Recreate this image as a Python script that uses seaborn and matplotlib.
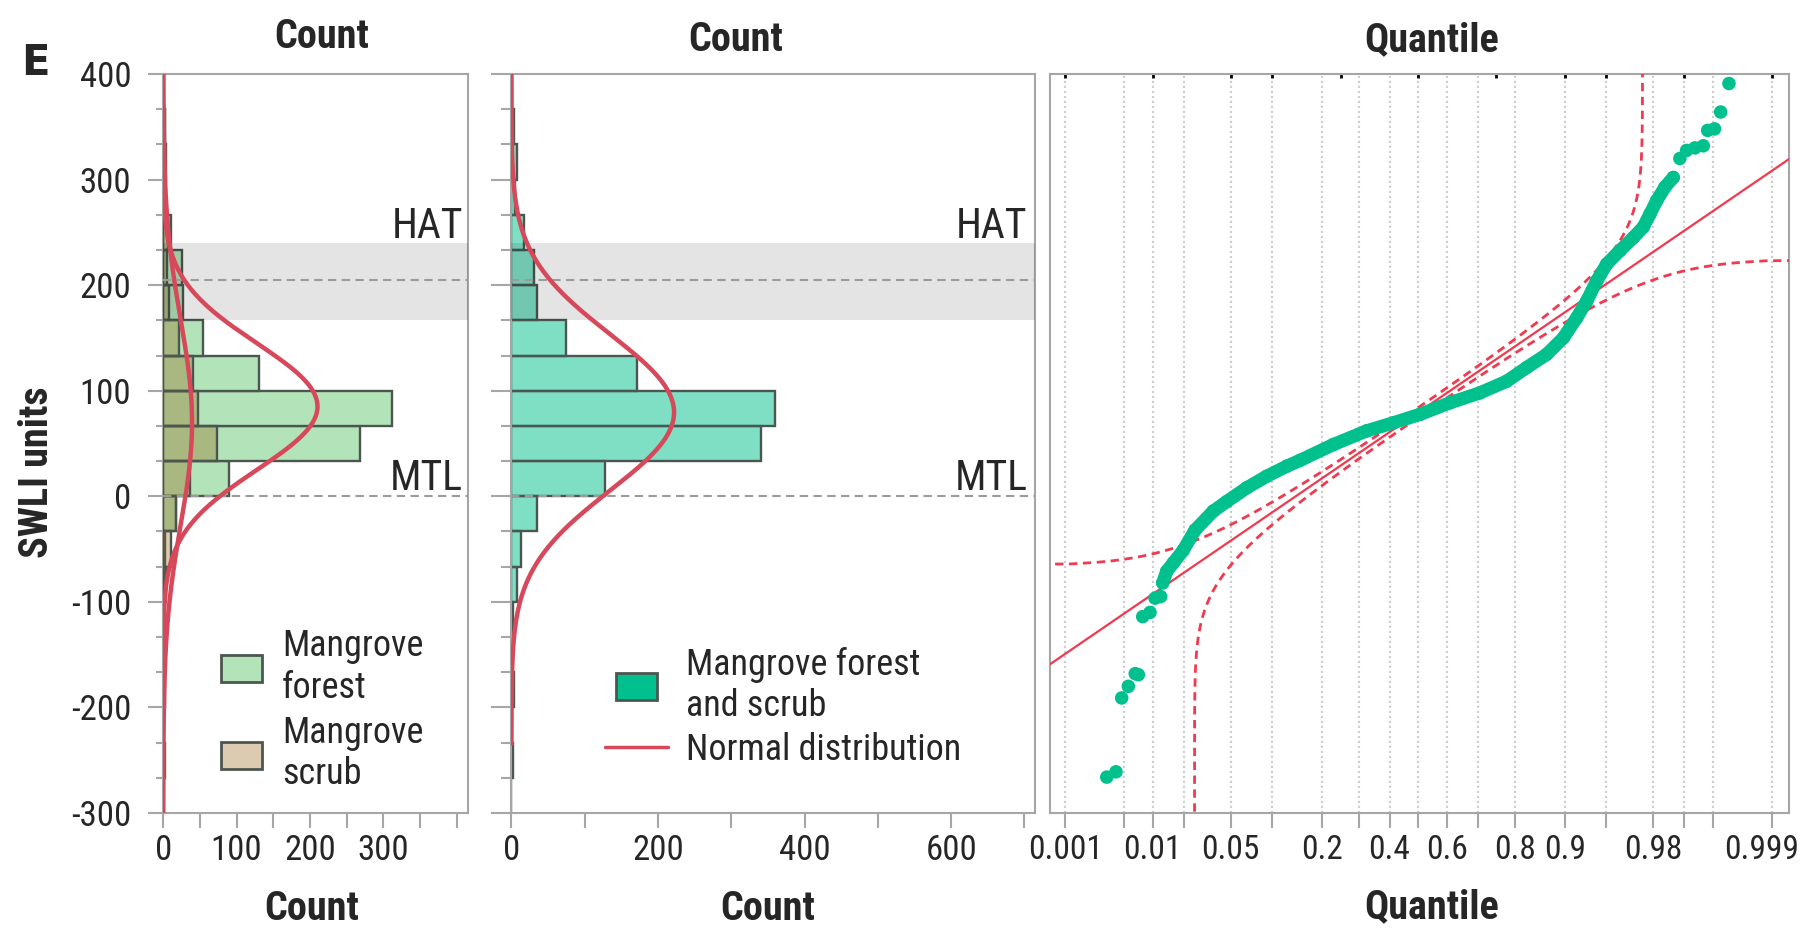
import numpy as np
import pandas as pd
import matplotlib
matplotlib.use("Agg")
import matplotlib.pyplot as plt
import matplotlib.transforms as mtransforms
import seaborn as sns
from matplotlib import font_manager as fm
from matplotlib.ticker import FixedLocator, FixedFormatter, NullFormatter
from matplotlib.patches import Patch, Rectangle
from matplotlib.lines import Line2D
from matplotlib.legend_handler import HandlerPatch
from statistics import NormalDist

# ---------------- data ----------------
swli_bin_edges = [-300.0, -266.67, -233.33, -200.0, -166.67, -133.33, -100.0, -66.67,
                  -33.33, 0.0, 33.33, 66.67, 100.0, 133.33, 166.67, 200.0, 233.33,
                  266.67, 300.0, 333.33, 366.67, 400.0]
forest_counts = [0, 0, 0, 0, 0, 1, 3, 3, 17, 90, 268, 312, 130, 54, 27, 26, 10, 2, 4, 2, 0]
scrub_counts = [0, 2, 0, 3, 0, 1, 4, 10, 18, 37, 73, 47, 41, 21, 8, 5, 7, 3, 3, 2, 1]

# fitted normal curves (mean, sd) and the SWLI span over which each is drawn
forest_fit = (85.0, 60.0)
scrub_fit = (70.0, 97.0)
all_fit = (79.5, 74.0)
forest_span = (-175, 348)
scrub_span = (-300, 400)
all_span = (-236, 400)

# tidal reference levels
hat_level = 205
mtl_level = 0
hat_band = (167, 240)

# normal quantile plot: (probability, SWLI) pairs
qq_low_p = [0.00319, 0.00406, 0.0047, 0.00556, 0.0066, 0.00712, 0.00791, 0.00941, 0.01058, 0.01204]
qq_low_v = [-266, -261, -191, -180, -168, -169, -114, -110, -96.5, -95]
qq_band_p = [0.01261, 0.0138, 0.01598, 0.0198, 0.0253, 0.0363, 0.0467, 0.0664, 0.0921, 0.1245,
             0.1499, 0.2281, 0.3253, 0.4129, 0.5052, 0.6087, 0.7047, 0.7799, 0.8282, 0.8691,
             0.8974, 0.9168, 0.9295, 0.9405, 0.9502, 0.961, 0.9699, 0.9754, 0.9786, 0.9814,
             0.9845, 0.9871]
qq_band_v = [-82, -71, -63, -51, -32, -14, -5, 8, 19, 28.5,
             34, 49, 62, 69.6, 77.6, 88.6, 98, 109, 122, 134.5,
             150, 169, 185, 204, 220, 232.7, 245, 255, 267.5, 280,
             293, 302]
qq_high_p = [0.9889, 0.9905, 0.9922, 0.99365, 0.9943, 0.9952, 0.9959, 0.9967]
qq_high_v = [320, 327.6, 330, 332, 346.6, 348, 364, 391]
qq_band_D = 0.025  # confidence band half-width in probability

# axis ticks / labels
y_major = [-300, -200, -100, 0, 100, 200, 300, 400]
y_labels = ["-300", "-200", "-100", "0", "100", "200", "300", "400"]
left_xticks = [0, 50, 100, 150, 200, 250, 300, 350, 400]
left_xlabels = ["0", "", "100", "", "200", "", "300", "", ""]
mid_xticks = [0, 100, 200, 300, 400, 500, 600, 700]
mid_xlabels = ["0", "", "200", "", "400", "", "600", ""]
q_ticks = [0.001, 0.005, 0.01, 0.02, 0.05, 0.1, 0.2, 0.3, 0.4, 0.5, 0.6, 0.7, 0.8, 0.9,
           0.95, 0.98, 0.99, 0.995, 0.999]
q_labels = ["0.001", "", "0.01", "", "0.05", "", "0.2", "", "0.4", "", "0.6", "", "0.8", "0.9",
            "", "0.98", "", "", "0.999"]
q_top_ticks = [0.001, 0.01, 0.05, 0.1, 0.25, 0.5, 0.75, 0.9, 0.95, 0.99, 0.999]

# ---------------- style ----------------
sns.set_style("white")
names = {f.name for f in fm.fontManager.ttflist}
COND = "DejaVu Sans"
for cand in ["Roboto Condensed", "Liberation Sans Narrow", "Open Sans Condensed"]:
    if cand in names:
        COND = cand
        break
plt.rcParams["font.family"] = [COND, "DejaVu Sans"]
plt.rcParams["font.stretch"] = "condensed"

FOREST = "#b3e3b8"
SCRUB = "#94610f"
SCRUB_LEG = "#dccbb0"
TEAL = "#00c08d"
EDGE = "#4c5650"
RED = "#d6485a"
QRED = "#f03a4f"
GRAY = "#a6a6a6"

W, H = 1805, 931
fig = plt.figure(figsize=(W / 100, H / 100), dpi=100)


def px_rect(x0, x1, ytop, ybot):
    return [x0 / W, 1 - ybot / H, (x1 - x0) / W, (ybot - ytop) / H]


ax1 = fig.add_axes(px_rect(163, 468, 74, 813))
ax2 = fig.add_axes(px_rect(510.7, 1035.4, 74, 813))
ax3 = fig.add_axes(px_rect(1049.8, 1788.8, 74, 813))

edges = np.array(swli_bin_edges)
centers = (edges[:-1] + edges[1:]) / 2
bw = edges[1] - edges[0]
hist_df = pd.DataFrame({"SWLI": centers, "forest": forest_counts, "scrub": scrub_counts})
hist_df["all"] = hist_df["forest"] + hist_df["scrub"]

nd = NormalDist()


def normal_curve(ax, fit, span, n):
    mu, sd = fit
    yy = np.linspace(span[0], span[1], 500)
    dist = NormalDist(mu, sd)
    xx = n * bw * np.array([dist.pdf(v) for v in yy])
    ax.plot(xx, yy, color=RED, lw=3.2, zorder=6, solid_capstyle="butt")


# ---------------- left panel ----------------
sns.histplot(data=hist_df, y="SWLI", weights="forest", bins=swli_bin_edges, color=FOREST, alpha=1,
             edgecolor=EDGE, linewidth=1.7, ax=ax1, zorder=2)
sns.histplot(data=hist_df, y="SWLI", weights="scrub", bins=swli_bin_edges, color=SCRUB, alpha=0.33,
             edgecolor=EDGE, linewidth=1.7, ax=ax1, zorder=3)
normal_curve(ax1, forest_fit, forest_span, hist_df["forest"].sum())
normal_curve(ax1, scrub_fit, scrub_span, hist_df["scrub"].sum())
ax1.set_xlim(-0.4, 415.6)

# ---------------- middle panel ----------------
sns.histplot(data=hist_df, y="SWLI", weights="all", bins=swli_bin_edges, color=TEAL, alpha=0.5,
             edgecolor=EDGE, linewidth=1.7, ax=ax2, zorder=2)
normal_curve(ax2, all_fit, all_span, hist_df["all"].sum())
ax2.set_xlim(-1, 715)

for ax, tick_len, pad_frac in [(ax1, 15, 5.3 / 305), (ax2, 20, 7.9 / 524.7)]:
    ax.set_ylim(-300, 400)
    ax.axhspan(hat_band[0], hat_band[1], color="black", alpha=0.105, lw=0, zorder=4)
    for lev in (hat_level, mtl_level):
        ax.axhline(lev, color="#9b9b9b", lw=1.5, ls=(0, (4, 2.6)), zorder=5)
    tr = mtransforms.blended_transform_factory(ax.transAxes, ax.transData)
    ax.text(1 - pad_frac, 245, "HAT", transform=tr, ha="right", va="baseline", fontsize=30, zorder=7)
    ax.text(1 - pad_frac, 6, "MTL", transform=tr, ha="right", va="baseline", fontsize=30, zorder=7)
    ax.set_xlabel("")
    ax.set_ylabel("")
    ax.yaxis.set_major_locator(FixedLocator(y_major))
    ax.yaxis.set_minor_locator(FixedLocator([e for e in swli_bin_edges if round(e) % 100 != 0]))
    ax.tick_params(axis="y", which="major", left=True, length=tick_len * 0.72, width=1.5,
                   color=GRAY, direction="out")
    ax.tick_params(axis="y", which="minor", left=True, length=tick_len * 0.36, width=1.5,
                   color=GRAY, direction="out")
    ax.tick_params(axis="x", which="major", bottom=True, length=10.8, width=1.5, color=GRAY,
                   direction="out", labelsize=25, pad=4)

ax1.yaxis.set_major_formatter(FixedFormatter(y_labels))
ax1.tick_params(axis="y", labelsize=25, pad=12)
ax2.yaxis.set_major_formatter(NullFormatter())
ax1.xaxis.set_major_locator(FixedLocator(left_xticks))
ax1.xaxis.set_major_formatter(FixedFormatter(left_xlabels))
ax2.xaxis.set_major_locator(FixedLocator(mid_xticks))
ax2.xaxis.set_major_formatter(FixedFormatter(mid_xlabels))


# ---------------- legends ----------------
def box_handler(wpx, hpx):
    def make(legend, orig_handle, xdescent, ydescent, width, height, fontsize):
        w = wpx * 0.72
        h = hpx * 0.72
        return Rectangle((-xdescent + (width - w) / 2, -ydescent + (height - h) / 2), w, h)
    return HandlerPatch(patch_func=make)


h_forest = Patch(facecolor=FOREST, edgecolor=EDGE, linewidth=2)
h_scrub = Patch(facecolor=SCRUB_LEG, edgecolor=EDGE, linewidth=2)
ax1.legend([h_forest, h_scrub], ["Mangrove\nforest", "Mangrove\nscrub"],
           handler_map={Patch: box_handler(41, 27)}, loc="upper left",
           bbox_to_anchor=(0.19, 0.25), frameon=False, fontsize=26, handlelength=41 / 36,
           handleheight=0.75, handletextpad=0.55, labelspacing=0.25, borderpad=0,
           borderaxespad=0)

h_all = Patch(facecolor=TEAL, edgecolor=EDGE, linewidth=2)
h_norm = Line2D([], [], color=RED, lw=2.5)
ax2.legend([h_all, h_norm], ["Mangrove forest\nand scrub", "Normal distribution"],
           handler_map={Patch: box_handler(41, 27)}, loc="upper left",
           bbox_to_anchor=(0.18, 0.225), frameon=False, fontsize=26, handlelength=63 / 36,
           handleheight=0.75, handletextpad=0.5, labelspacing=0.2, borderpad=0,
           borderaxespad=0)


# ---------------- right panel: normal quantile plot ----------------
def probit(p):
    p = np.clip(np.asarray(p, dtype=float), 1e-12, 1 - 1e-12)
    return np.vectorize(nd.inv_cdf, otypes=[float])(p)


def inv_probit(z):
    z = np.asarray(z, dtype=float)
    return np.vectorize(nd.cdf, otypes=[float])(z)


ax3.set_xscale("function", functions=(probit, inv_probit))
ax3.set_xlim(nd.cdf(-3.226), nd.cdf(3.24))
ax3.set_ylim(-300, 400)

mu, sd = all_fit
# fitted line
ax3.plot([nd.cdf(-3.3), nd.cdf(3.3)], [mu + sd * -3.3, mu + sd * 3.3], color=QRED, lw=1.6, zorder=3)
# confidence bands
t = np.concatenate([np.linspace(-6, -2, 200), np.linspace(-2, 2, 200), np.linspace(2, 6, 200)])
u = inv_probit(t)
p_up = u - qq_band_D
ok = p_up > 1e-6
ax3.plot(p_up[ok], mu + sd * t[ok], color=QRED, lw=2, ls=(0, (3, 2)), zorder=3)
p_lo = u + qq_band_D
ok = p_lo < 1 - 1e-6
ax3.plot(p_lo[ok], mu + sd * t[ok], color=QRED, lw=2, ls=(0, (3, 2)), zorder=3)

# data
ax3.plot(qq_band_p, qq_band_v, color=TEAL, lw=9.5, solid_capstyle="round",
         solid_joinstyle="round", zorder=4)
sns.scatterplot(x=qq_low_p + qq_band_p + qq_high_p, y=qq_low_v + qq_band_v + qq_high_v,
                ax=ax3, color=TEAL, s=95, edgecolor="none", linewidth=0, zorder=4)

ax3.xaxis.set_major_locator(FixedLocator(q_ticks))
ax3.xaxis.set_major_formatter(FixedFormatter(q_labels))
ax3.xaxis.set_minor_locator(FixedLocator(q_top_ticks))
ax3.xaxis.set_minor_formatter(NullFormatter())
ax3.xaxis.remove_overlapping_locs = False
ax3.tick_params(axis="x", which="major", bottom=True, top=False, length=10.8, width=1.5,
                color=GRAY, direction="out", labelsize=24, pad=4)
ax3.tick_params(axis="x", which="minor", bottom=False, top=True, length=3, width=2,
                color="black", direction="in")
ax3.set_yticks([])
ax3.grid(axis="x", which="major", color="#cdcdcd", ls=(0, (1, 1.4)), lw=1.5)
ax3.set_axisbelow(True)
ax3.set_xlabel("")
ax3.set_ylabel("")

for ax in (ax1, ax2, ax3):
    for s in ax.spines.values():
        s.set_visible(True)
        s.set_color(GRAY)
        s.set_linewidth(1.5)

# ---------------- titles ----------------
def ftxt(x, y, s, **kw):
    fig.text(x / W, 1 - y / H, s, **kw)


for cx, cy, s in [(322, 48, "Count"), (736, 51, "Count"), (1432, 51, "Quantile"),
                  (312, 920, "Count"), (768, 920, "Count"), (1432, 918, "Quantile")]:
    ftxt(cx, cy, s, ha="center", va="baseline", fontsize=29, fontweight="bold")
ftxt(36.7, 472, "SWLI units", ha="center", va="center", rotation=90, fontsize=29,
     fontweight="bold")
ftxt(21, 75, "E", ha="left", va="baseline", fontsize=30, fontweight="bold",
     family="DejaVu Sans", fontstretch="normal")

# keep the last quantile label inside the figure
fig.canvas.draw()
last = ax3.xaxis.get_major_ticks()[-1].label1
last.set_transform(last.get_transform() +
                   mtransforms.ScaledTranslation(-0.10, 0, fig.dpi_scale_trans))

fig.savefig("out.png", dpi=100)
